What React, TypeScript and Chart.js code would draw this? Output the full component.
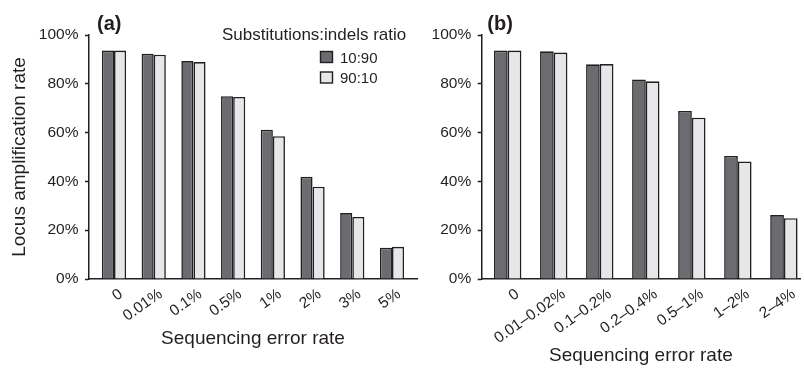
import React, { useEffect, useRef } from 'react';
import { Chart, registerables } from 'chart.js';

Chart.register(...registerables);

const FONT = '"Liberation Sans", Arial, Helvetica, sans-serif';
const INK = '#231f20';
const DARK = '#6b6c70';
const LIGHT = '#e6e7e8';

// ---------- data ----------
const categoriesA = ['0', '0.01%', '0.1%', '0.5%', '1%', '2%', '3%', '5%'];
const seriesA_10_90 = [93.6, 92.3, 89.3, 74.9, 61.2, 41.9, 27.0, 12.8];
const seriesA_90_10 = [93.6, 91.9, 88.9, 74.6, 58.5, 37.8, 25.4, 13.2];

const categoriesB = ['0', '0.01–0.02%', '0.1–0.2%', '0.2–0.4%', '0.5–1%', '1–2%', '2–4%'];
const seriesB_10_90 = [93.6, 93.3, 88.0, 81.8, 68.9, 50.4, 26.2];
const seriesB_90_10 = [93.6, 92.8, 88.1, 81.0, 66.1, 48.2, 24.9];

const yTickValues = [0, 20, 40, 60, 80, 100];
const seriesLabels = ['10:90', '90:10'];
const seriesColors = [DARK, LIGHT];
const legendTitle = 'Substitutions:indels ratio';
const yTitleText = 'Locus amplification rate';
const xTitleText = 'Sequencing error rate';

type PanelProps = {
  categories: string[];
  s1: number[];
  s2: number[];
  left: number;
  width: number;
  axisX: number;
  xMin: number;
  xMax: number;
  padRight: number;
  catPct: number;
  labelOffset: number;
  xTitlePadBottom: number;
  showYTitle: boolean;
  letter: string;
  letterX: number;
  showLegend: boolean;
};

function Panel(p: PanelProps) {
  const ref = useRef<HTMLCanvasElement>(null);
  useEffect(() => {
    const overlay = {
      id: 'overlay',
      afterDraw(chart: any) {
        const ctx = chart.ctx as CanvasRenderingContext2D;
        ctx.save();
        ctx.fillStyle = INK;
        ctx.textBaseline = 'alphabetic';
        ctx.textAlign = 'left';
        ctx.font = `bold 20px ${FONT}`;
        ctx.fillText(p.letter, p.letterX, 29.5);
        if (p.showLegend) {
          ctx.font = `17px ${FONT}`;
          ctx.fillText(legendTitle, 222, 40);
          ctx.font = `15px ${FONT}`;
          seriesLabels.forEach((lab, i) => {
            const by = 51 + i * 20.5;
            ctx.fillStyle = seriesColors[i];
            ctx.fillRect(320.5, by + 0.5, 12, 11);
            ctx.strokeStyle = INK;
            ctx.lineWidth = 1.4;
            ctx.strokeRect(320.5, by + 0.5, 12, 11);
            ctx.fillStyle = INK;
            ctx.fillText(lab, 340, by + 11.5);
          });
        }
        ctx.restore();
      },
    };

    const mk = (vals: number[]) => vals.map((v, i) => ({ x: i, y: v }));
    const chart = new Chart(ref.current as HTMLCanvasElement, {
      type: 'bar',
      data: {
        datasets: [
          {
            label: seriesLabels[0],
            data: mk(p.s1),
            backgroundColor: seriesColors[0],
            borderColor: INK,
            borderWidth: 1.6,
            barPercentage: 1,
            categoryPercentage: p.catPct,
          },
          {
            label: seriesLabels[1],
            data: mk(p.s2),
            backgroundColor: seriesColors[1],
            borderColor: INK,
            borderWidth: 1.6,
            barPercentage: 1,
            categoryPercentage: p.catPct,
          },
        ],
      } as any,
      options: {
        responsive: false,
        maintainAspectRatio: false,
        animation: false,
        layout: { padding: { top: 35, right: p.padRight, left: 0, bottom: 0 } },
        plugins: {
          legend: { display: false },
          tooltip: { enabled: false },
          title: { display: false },
        },
        scales: {
          x: {
            type: 'linear',
            min: p.xMin,
            max: p.xMax,
            offset: false,
            afterBuildTicks: (s: any) => {
              s.ticks = p.categories.map((_, i) => ({ value: i }));
            },
            afterFit: (s: any) => {
              s.height = 368 - 279;
            },
            grid: { display: false, drawTicks: false },
            border: { display: true, color: INK, width: 1.5 },
            ticks: {
              autoSkip: false,
              minRotation: 35,
              maxRotation: 35,
              padding: 6,
              labelOffset: p.labelOffset,
              color: INK,
              font: { size: 15.5, family: FONT },
              callback: (v: any) => p.categories[v] ?? '',
            },
            title: {
              display: true,
              text: xTitleText,
              color: INK,
              font: { size: 19, family: FONT, lineHeight: 1.1 },
              padding: { top: 0, bottom: p.xTitlePadBottom },
            },
          },
          y: {
            min: 0,
            max: 100,
            afterBuildTicks: (s: any) => {
              s.ticks = yTickValues.map((v) => ({ value: v }));
            },
            afterFit: (s: any) => {
              s.width = p.axisX;
            },
            grid: {
              display: true,
              drawOnChartArea: false,
              drawTicks: true,
              tickLength: 4,
              tickColor: INK,
              tickWidth: 1.5,
            },
            border: { display: true, color: INK, width: 1.5 },
            ticks: {
              padding: 6.5,
              color: INK,
              font: { size: 15.5, family: FONT },
              callback: (v: any) => `${v}%`,
            },
            title: {
              display: p.showYTitle,
              text: yTitleText,
              color: INK,
              font: { size: 19, family: FONT, lineHeight: 1.1 },
              padding: { top: 9, bottom: 0 },
            },
          },
        },
      } as any,
      plugins: [overlay],
    });
    return () => chart.destroy();
  }, []);
  return (
    <canvas
      ref={ref}
      width={p.width}
      height={368}
      style={{ position: 'absolute', left: p.left, top: 0, width: p.width, height: 368 }}
    />
  );
}

export default function App() {
  return (
    <div
      style={{
        position: 'fixed',
        left: 0,
        top: 0,
        width: 804,
        height: 368,
        background: '#ffffff',
        overflow: 'hidden',
      }}
    >
      <Panel
        categories={categoriesA}
        s1={seriesA_10_90}
        s2={seriesA_90_10}
        left={0}
        width={420}
        axisX={89}
        xMin={-0.63}
        xMax={7.63}
        padRight={3}
        catPct={0.61}
        labelOffset={7}
        xTitlePadBottom={18.5}
        showYTitle={true}
        letter="(a)"
        letterX={97}
        showLegend={true}
      />
      <Panel
        categories={categoriesB}
        s1={seriesB_10_90}
        s2={seriesB_90_10}
        left={420}
        width={384}
        axisX={61.7}
        xMin={-0.565}
        xMax={6.35}
        padRight={4}
        catPct={0.595}
        labelOffset={10}
        xTitlePadBottom={2}
        showYTitle={false}
        letter="(b)"
        letterX={67.3}
        showLegend={false}
      />
    </div>
  );
}
